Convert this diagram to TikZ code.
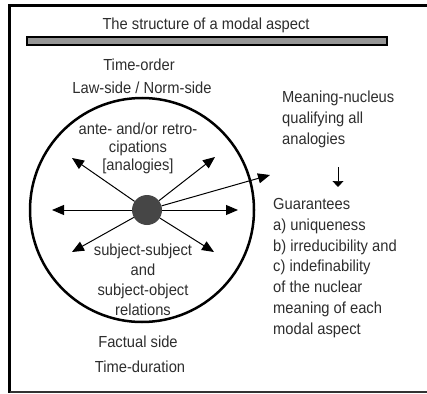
\documentclass[tikz,border=0pt]{standalone}
\usepackage{fontspec}
\setmainfont{Liberation Sans}[FakeStretch=0.92]
\usetikzlibrary{arrows.meta, positioning}
\definecolor{textgray}{RGB}{45,45,45}
\definecolor{bargray}{RGB}{150,150,150}
\definecolor{dotgray}{RGB}{70,70,70}

\begin{document}
\begin{tikzpicture}[x=1pt, y=-1pt,
  txt/.style={text=textgray, font=\fontsize{16}{20}\selectfont, inner sep=0pt, align=center},
  ray/.style={line width=1pt, -{Triangle[length=12pt, width=10pt]}}]
  \useasboundingbox (0,0) rectangle (427,393);

  % Frame and title bar
  \draw[line width=3pt] (427,6) -- (9.5,6) -- (9.5,393);
  \draw[line width=2pt, black!80] (9.5,392) -- (427,392);
  \draw[fill=bargray, line width=1.5pt] (27,37) rectangle (387,45);
  \node[txt] (title) at (206,25) {The structure of a modal aspect};

  % Law-side
  \node[txt] (timeorder) at (139,65) {Time-order};
  \node[txt] (lawside) at (142,88) {Law-side / Norm-side};

  % The aspect circle
  \node[draw, circle, minimum size=224pt, line width=2.5pt, inner sep=0pt] (aspect) at (142,210) {};
  \node[circle, fill=dotgray, minimum size=30pt, inner sep=0pt] (nucleus) at (147,210) {};
  \node[txt, font=\fontsize{16}{18}\selectfont] (analogies) at (138,148) {ante- and/or retro-\\cipations\\{[analogies]}};
  \node[txt] (relations) at (143,280) {subject-subject\\and\\subject-object\\relations};

  % Rays
  \coordinate (rayW) at (52,210);
  \coordinate (rayE) at (238,210);
  \coordinate (rayNW) at (72,158);
  \coordinate (rayNE) at (215,157);
  \coordinate (raySW) at (72,252);
  \coordinate (raySE) at (214,252);
  \coordinate (rayOut) at (270,175);
  \foreach \r in {rayW, rayE, rayNW, rayNE, raySW, raySE, rayOut}
    \draw[ray] (nucleus) -- (\r);

  % Factual side
  \node[txt] (factual) at (138,342) {Factual side};
  \node[txt] (duration) at (140,367) {Time-duration};

  % Meaning-nucleus
  \node[txt, align=left, anchor=west, font=\fontsize{16}{21}\selectfont] (meaning) at (282,119) {Meaning-nucleus\\qualifying all\\analogies};
  \coordinate (downtop) at (338,167);
  \coordinate (downbot) at (338,187);
  \draw[line width=0.7pt, -{Triangle[length=6pt, width=11pt]}] (downtop) -- (downbot);
  \node[txt, align=left, anchor=west, font=\fontsize{16}{20.8}\selectfont] (guarantees) at (273,268) {Guarantees\\a) uniqueness\\b) irreducibility and\\c) indefinability\\of the nuclear\\meaning of each\\modal aspect};
\end{tikzpicture}
\end{document}
